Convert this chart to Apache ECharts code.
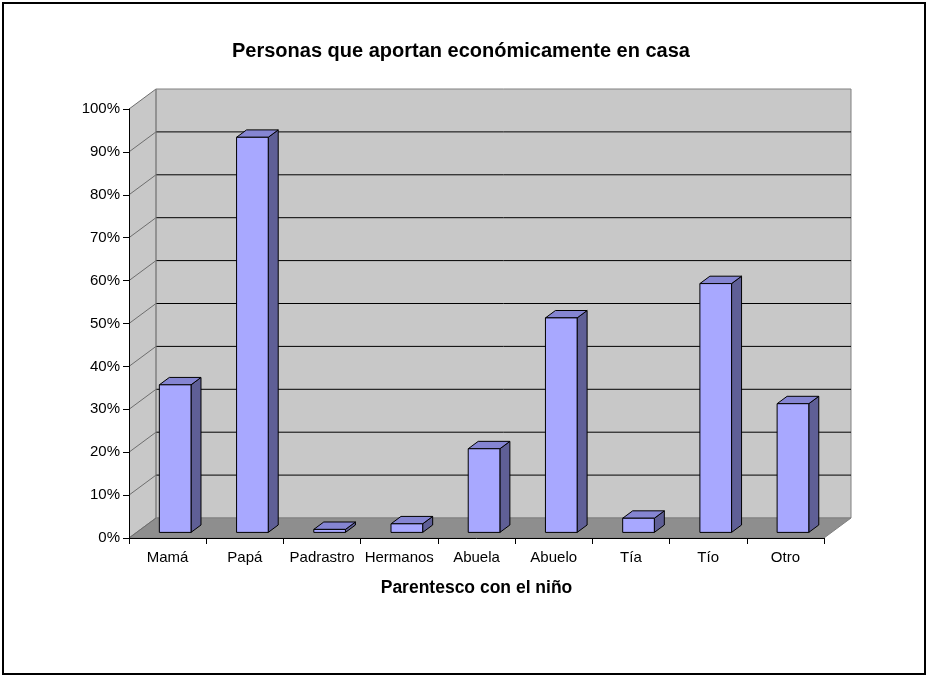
<!DOCTYPE html>
<html>
<head>
<meta charset="utf-8">
<script src="https://cdn.jsdelivr.net/npm/echarts@6/dist/echarts.min.js"></script>
<style>
  html, body { margin: 0; padding: 0; background: #ffffff; }
  #chart { width: 928px; height: 677px; }
</style>
</head>
<body>
<div id="chart"></div>
<script>
// Share of people contributing income at home, by relationship to the child
const categories = ['Mamá', 'Papá', 'Padrastro', 'Hermanos', 'Abuela', 'Abuelo', 'Tía', 'Tío', 'Otro'];
const values = [34.4, 92.1, 0.7, 2.0, 19.5, 50.0, 3.3, 58.0, 30.0];
const yTicks = [0, 10, 20, 30, 40, 50, 60, 70, 80, 90, 100];

// Pseudo-3D look: offset of the back wall relative to the front plane (px)
const DEPTH = [27, -20];
const BAR_FRONT = 0.28;   // fraction of depth where the bar's front face sits
const BAR_BACK = 0.65;    // fraction of depth where the bar's back face sits
const BAR_WIDTH = 0.41;   // fraction of the category band

const FONT = '"Liberation Sans", Arial, sans-serif';

const chart = echarts.init(document.getElementById('chart'), null, { renderer: 'canvas' });

function renderWalls(params, api) {
  const cs = params.coordSys;
  const dx = DEPTH[0], dy = DEPTH[1];
  const xl = cs.x, xr = cs.x + cs.width;
  const yb = cs.y + cs.height, yt = cs.y;
  const children = [];
  // left side wall
  children.push({
    type: 'polygon',
    shape: { points: [[xl, yb], [xl, yt], [xl + dx, yt + dy], [xl + dx, yb + dy]] },
    style: { fill: '#C8C8C8', stroke: null }
  });
  // back wall
  children.push({
    type: 'rect',
    shape: { x: xl + dx, y: yt + dy, width: cs.width, height: cs.height },
    style: { fill: '#C8C8C8', stroke: '#808080', lineWidth: 1 }
  });
  // floor
  children.push({
    type: 'polygon',
    shape: { points: [[xl, yb], [xl + dx, yb + dy], [xr + dx, yb + dy], [xr, yb]] },
    style: { fill: '#8E8E8E', stroke: '#808080', lineWidth: 1 }
  });
  // gridlines on the back wall and their continuation across the side wall
  yTicks.forEach(function (t) {
    const y = api.coord([0, t])[1];
    children.push({
      type: 'line',
      shape: { x1: xl, y1: y, x2: xl + dx, y2: y + dy },
      style: { stroke: '#6E6E6E', lineWidth: 1 }
    });
    if (t > 0 && t < 100) {
      children.push({
        type: 'line',
        shape: { x1: xl + dx, y1: y + dy, x2: xr + dx, y2: y + dy },
        style: { stroke: '#000000', lineWidth: 1 }
      });
    }
  });
  // back edge of the side wall
  children.push({
    type: 'line',
    shape: { x1: xl + dx, y1: yt + dy, x2: xl + dx, y2: yb + dy },
    style: { stroke: '#808080', lineWidth: 1 }
  });
  return { type: 'group', children: children };
}

function renderBar(params, api) {
  const i = api.value(0);
  const v = api.value(1);
  const base = api.coord([i, 0]);
  const top = api.coord([i, v]);
  const band = api.size([1, 0])[0];
  const w = band * BAR_WIDTH;
  const fdx = DEPTH[0] * BAR_FRONT, fdy = DEPTH[1] * BAR_FRONT;
  const ddx = DEPTH[0] * (BAR_BACK - BAR_FRONT), ddy = DEPTH[1] * (BAR_BACK - BAR_FRONT);
  const x0 = base[0] - w / 2 + fdx;
  const x1 = x0 + w;
  const yb = base[1] + fdy;
  const yt = top[1] + fdy;
  const edge = { stroke: '#000000', lineWidth: 1, lineJoin: 'round' };
  return {
    type: 'group',
    children: [
      {
        type: 'polygon',
        shape: { points: [[x1, yb], [x1, yt], [x1 + ddx, yt + ddy], [x1 + ddx, yb + ddy]] },
        style: Object.assign({ fill: '#5F5F96' }, edge)
      },
      {
        type: 'polygon',
        shape: { points: [[x0, yt], [x1, yt], [x1 + ddx, yt + ddy], [x0 + ddx, yt + ddy]] },
        style: Object.assign({ fill: '#8585D2' }, edge)
      },
      {
        type: 'rect',
        shape: { x: x0, y: yt, width: w, height: yb - yt },
        style: Object.assign({ fill: '#A8A8FF' }, edge)
      }
    ]
  };
}

const option = {
  backgroundColor: '#ffffff',
  animation: false,
  title: {
    text: 'Personas que aportan económicamente en casa',
    left: 227,
    top: 36,
    textStyle: { fontFamily: FONT, fontSize: 20, fontWeight: 'bold', color: '#000000' }
  },
  grid: { left: 129, top: 109, right: 104, bottom: 139 },
  xAxis: {
    type: 'category',
    data: categories,
    z: 10,
    boundaryGap: true,
    axisLine: { lineStyle: { color: '#000000', width: 1 } },
    axisTick: { show: true, length: 6, alignWithLabel: false, lineStyle: { color: '#000000' } },
    axisLabel: { margin: 12, color: '#000000', fontFamily: FONT, fontSize: 15, interval: 0 },
    name: 'Parentesco con el niño',
    nameLocation: 'middle',
    nameGap: 41,
    nameTextStyle: { fontFamily: FONT, fontSize: 17.5, fontWeight: 'bold', color: '#000000' },
    splitLine: { show: false }
  },
  yAxis: {
    type: 'value',
    min: 0,
    max: 100,
    interval: 10,
    z: 10,
    axisLine: { show: true, lineStyle: { color: '#000000', width: 1 } },
    axisTick: { show: true, length: 6, lineStyle: { color: '#000000' } },
    axisLabel: { formatter: '{value}%', margin: 9, color: '#000000', fontFamily: FONT, fontSize: 15 },
    splitLine: { show: false }
  },
  graphic: [
    {
      type: 'rect',
      z: 100,
      shape: { x: 3, y: 3, width: 922, height: 671 },
      style: { fill: null, stroke: '#000000', lineWidth: 2 }
    }
  ],
  series: [
    {
      type: 'custom',
      name: 'walls',
      z: 1,
      silent: true,
      data: [[0, 0]],
      renderItem: renderWalls
    },
    {
      type: 'custom',
      name: 'Parentesco',
      z: 3,
      data: values.map(function (v, i) { return [i, v]; }),
      encode: { x: 0, y: 1 },
      renderItem: renderBar
    }
  ]
};

chart.setOption(option);
</script>
</body>
</html>
